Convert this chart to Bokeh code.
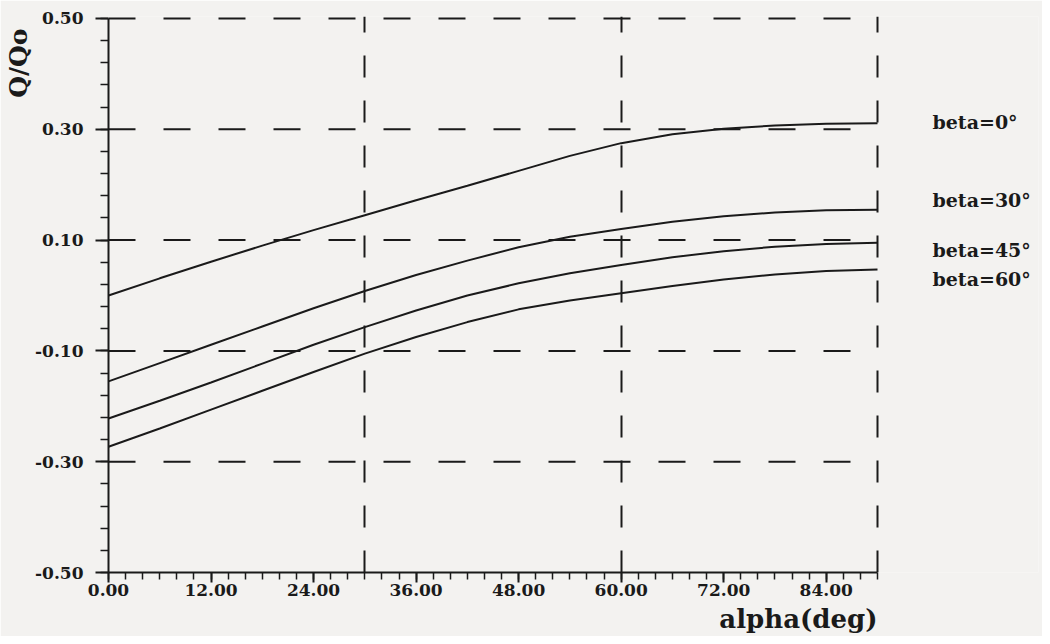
from bokeh.plotting import figure
from bokeh.models import Range1d, FixedTicker, NumeralTickFormatter, Label, Title
from bokeh.embed import file_html
from bokeh.resources import INLINE

# ---- data ----
alpha = [0, 6, 12, 18, 24, 30, 36, 42, 48, 54, 60, 66, 72, 78, 84, 90]
beta_0 = [0.000, 0.031, 0.061, 0.090, 0.118, 0.145, 0.172, 0.198, 0.225, 0.252,
          0.275, 0.291, 0.301, 0.307, 0.310, 0.311]
beta_30 = [-0.155, -0.122, -0.089, -0.056, -0.023, 0.008, 0.037, 0.063, 0.087, 0.106,
           0.120, 0.133, 0.143, 0.150, 0.154, 0.155]
beta_45 = [-0.222, -0.190, -0.157, -0.123, -0.089, -0.057, -0.027, 0.000, 0.022, 0.040,
           0.055, 0.069, 0.080, 0.088, 0.093, 0.095]
beta_60 = [-0.273, -0.240, -0.206, -0.172, -0.138, -0.105, -0.075, -0.048, -0.025, -0.009,
           0.004, 0.017, 0.029, 0.038, 0.044, 0.047]
series = [beta_0, beta_30, beta_45, beta_60]
series_names = ["beta=0°", "beta=30°", "beta=45°", "beta=60°"]

x_ticks = [0, 12, 24, 36, 48, 60, 72, 84]
x_minor = list(range(0, 92, 2))
x_grid = [30, 60, 90]
y_ticks = [-0.5, -0.3, -0.1, 0.1, 0.3, 0.5]
y_minor = [round(-0.5 + 0.04 * i, 2) for i in range(26)]
y_grid = [-0.3, -0.1, 0.1, 0.3, 0.5]

x_title = "alpha(deg)"
y_title = "Q/Qo"

X_MIN, X_MAX = 0, 90          # axis extent
Y_MIN, Y_MAX = -0.5, 0.5

BG = "#f3f2f0"
INK = "#1a1a1a"
FONT = "DejaVu Serif"

# frame: left edge at 108 px, 90 deg at 877 px; frame extended to the right so
# the series names can sit inside it, and 2 px above the top line
W, H = 1042, 636
LEFT, RIGHT, TOP, BOTTOM = 108, 4, 16, 63
px_per_deg = (877 - LEFT) / (X_MAX - X_MIN)
x_end = X_MIN + (W - LEFT - RIGHT) / px_per_deg
px_per_unit = (573 - 18) / (Y_MAX - Y_MIN)
y_end = Y_MAX + 2 / px_per_unit

p = figure(width=W, height=H, x_range=Range1d(X_MIN, x_end), y_range=Range1d(Y_MIN, y_end),
           output_backend="svg", toolbar_location=None,
           min_border_left=LEFT, min_border_right=RIGHT, min_border_top=TOP,
           min_border_bottom=BOTTOM)
p.background_fill_color = BG
p.border_fill_color = BG
p.outline_line_color = None

# axes
xa = p.xaxis[0]
xa.bounds = (X_MIN, X_MAX)
xa.ticker = FixedTicker(ticks=x_ticks, minor_ticks=x_minor)
xa.formatter = NumeralTickFormatter(format="0.00")
xa.axis_line_color = INK
xa.axis_line_width = 2
xa.major_tick_line_color = INK
xa.major_tick_line_width = 2
xa.minor_tick_line_color = INK
xa.minor_tick_line_width = 1.5
xa.major_tick_out = 10
xa.major_tick_in = 0
xa.minor_tick_out = 7
xa.minor_tick_in = 0
xa.major_label_standoff = 1
xa.major_label_text_font = FONT
xa.major_label_text_font_style = "bold"
xa.major_label_text_font_size = "17px"
xa.major_label_text_color = INK

ya = p.yaxis[0]
ya.bounds = (Y_MIN, Y_MAX)
ya.ticker = FixedTicker(ticks=y_ticks, minor_ticks=y_minor)
ya.formatter = NumeralTickFormatter(format="0.00")
ya.axis_line_color = INK
ya.axis_line_width = 2
ya.major_tick_line_color = INK
ya.major_tick_line_width = 2
ya.minor_tick_line_color = INK
ya.minor_tick_line_width = 1.5
ya.major_tick_out = 13
ya.major_tick_in = 0
ya.minor_tick_out = 8
ya.minor_tick_in = 0
ya.major_label_standoff = 12
ya.major_label_text_font = FONT
ya.major_label_text_font_style = "bold"
ya.major_label_text_font_size = "17px"
ya.major_label_text_color = INK

# dashed grid: vertical lines via the grid, horizontal ones limited to the axis extent
p.xgrid.ticker = FixedTicker(ticks=x_grid)
p.xgrid.grid_line_color = INK
p.xgrid.grid_line_width = 2
p.xgrid.grid_line_dash = "22 23"
p.ygrid.visible = False
p.segment(x0=[X_MIN] * len(y_grid), x1=[X_MAX] * len(y_grid), y0=y_grid, y1=y_grid,
          line_color=INK, line_width=2, line_dash="27 28")

# curves
for ys in series:
    p.line(alpha, ys, line_color=INK, line_width=2)

# series names at the right of the curves
label_x = X_MAX + (932 - 877) / px_per_deg
label_y = [0.313, 0.173, 0.083, 0.029]
for name, ly in zip(series_names, label_y):
    p.add_layout(Label(x=label_x, y=ly, text=name,
                       text_font=FONT, text_font_style="bold", text_font_size="19px",
                       text_color=INK, text_align="left", text_baseline="middle"))

# axis titles
p.add_layout(Title(text=x_title, align="right", offset=(W - RIGHT - 877),
                   text_font=FONT, text_font_style="bold", text_font_size="26px",
                   text_color=INK, standoff=6), "below")
p.add_layout(Title(text=y_title, align="right", offset=12,
                   text_font=FONT, text_font_style="bold", text_font_size="25px",
                   text_color=INK, standoff=0), "left")

open("out.html", "w").write(file_html(p, INLINE))
